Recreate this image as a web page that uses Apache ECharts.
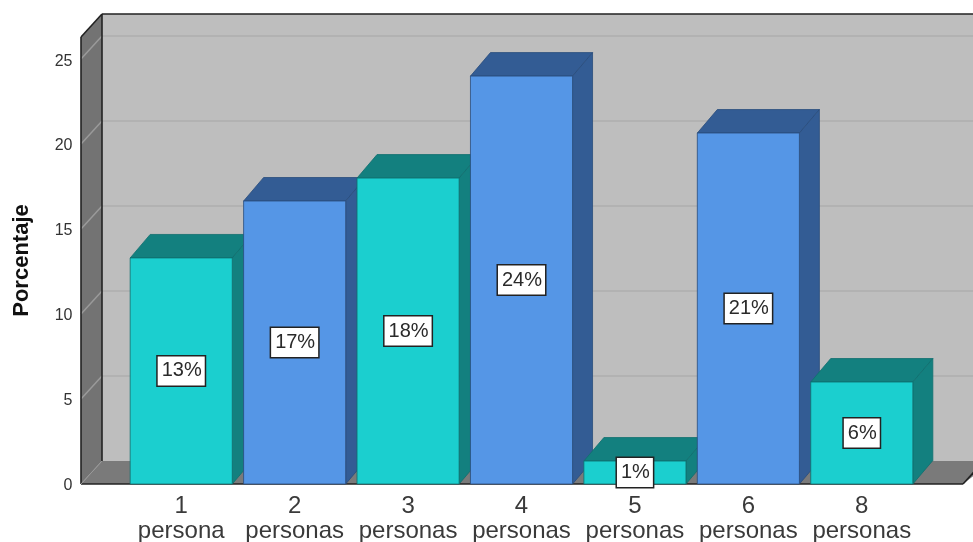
<!DOCTYPE html>
<html><head><meta charset="utf-8">
<style>html,body{margin:0;padding:0;background:#fff}#c{width:973px;height:542px}</style>
<script src="https://cdn.jsdelivr.net/npm/echarts@6/dist/echarts.min.js"></script>
</head><body><div id="c"></div>
<script>
const categories = ['1\npersona','2\npersonas','3\npersonas','4\npersonas','5\npersonas','6\npersonas','8\npersonas'];
const porcentaje = [13.3, 16.65, 18.0, 24.0, 1.35, 20.65, 6.0];
const etiquetas = ['13%','17%','18%','24%','1%','21%','6%'];
const yTicks = [0,5,10,15,20,25];
const yMax = 26.3;

const FONT = '"Liberation Sans", Arial, sans-serif';
const DX = 20, DY = 23.5, WDX = 21, WDY = 23;
const tones = [
  {front:'#1BCFCF', dark:'#13807F', edge:'#0F6E6E'},
  {front:'#5596E6', dark:'#335C94', edge:'#2A4C7C'}
];
const chart = echarts.init(document.getElementById('c'), null, {renderer:'canvas'});

function renderWalls(params, api){
  const cs = params.coordSys;
  const L = cs.x - 43.5, R = cs.x + cs.width + 44.5, B = cs.y + cs.height, T = cs.y;
  const bl = L + WDX, bb = B - WDY, bt = T - WDY, br = R + 30;
  const kids = [
    {type:'polygon', shape:{points:[[bl,bt],[br,bt],[br,bb],[bl,bb]]}, style:{fill:'#BEBEBE'}},
    {type:'polygon', shape:{points:[[L,T],[bl,bt],[bl,bb],[L,B]]}, style:{fill:'#737373'}},
    {type:'polygon', shape:{points:[[L,B],[bl,bb],[br,bb],[R,B]]}, style:{fill:'#7A7A7A'}}
  ];
  yTicks.forEach(v => {
    if (v === 0) return;
    const y = api.coord([0, v])[1];
    kids.push({type:'line', shape:{x1:bl,y1:y-WDY,x2:br,y2:y-WDY}, style:{stroke:'#AEAEAE',lineWidth:1.5}});
    kids.push({type:'line', shape:{x1:L,y1:y,x2:bl,y2:y-WDY}, style:{stroke:'#9A9A9A',lineWidth:1.5}});
  });
  const ln = '#222222';
  [[L,T,bl,bt],[bl,bt,br,bt],[bl,bt,bl,bb],[L,T,L,B],[L,B,R,B],[R,B,R+WDX,bb]].forEach(p => {
    kids.push({type:'line', shape:{x1:p[0],y1:p[1],x2:p[2],y2:p[3]}, style:{stroke:ln,lineWidth:1.6}});
  });
  kids.push({type:'line', shape:{x1:L,y1:B,x2:bl,y2:bb}, style:{stroke:'#999999',lineWidth:1}});
  return {type:'group', children:kids};
}

function renderBar(params, api){
  const i = api.value(0), v = api.value(1);
  const c = api.coord([i, v]), z = api.coord([i, 0]);
  const w = api.size([1, 0])[0] * 0.9;
  const x1 = c[0] - w/2, x2 = c[0] + w/2, t = c[1], b = z[1];
  const tone = tones[i % 2];
  return {type:'group', children:[
    {type:'polygon', shape:{points:[[x1,t],[x2,t],[x2+DX,t-DY],[x1+DX,t-DY]]}, style:{fill:tone.dark, stroke:tone.edge, lineWidth:0.8}},
    {type:'polygon', shape:{points:[[x2,t],[x2+DX,t-DY],[x2+DX,b-DY],[x2,b]]}, style:{fill:tone.dark, stroke:tone.edge, lineWidth:0.8}},
    {type:'rect', shape:{x:x1,y:t,width:w,height:b-t}, style:{fill:tone.front, stroke:tone.edge, lineWidth:0.8}}
  ]};
}

function renderLabel(params, api){
  const i = api.value(0), v = api.value(1);
  const c = api.coord([i, v/2]);
  return {type:'text', style:{x:c[0], y:c[1], text:etiquetas[i], align:'center', verticalAlign:'middle',
    font:'20px '+FONT, fill:'#2A2A2A', backgroundColor:'#FFFFFF', borderColor:'#222222', borderWidth:1.5, padding:[5,3,4,4]}};
}

const barData = porcentaje.map((v,i)=>[i,v]);
chart.setOption({
  animation:false,
  backgroundColor:'#fff',
  grid:{left:124.5, width:794, top:37, height:447, containLabel:false, outerBoundsMode:'none'},
  xAxis:{type:'category', data:categories, axisLine:{show:false}, axisTick:{show:false}, splitLine:{show:false},
    axisLabel:{interval:0, margin:10, fontFamily:FONT, fontSize:24, color:'#3A3A3A', lineHeight:25}},
  yAxis:{type:'value', min:0, max:yMax, interval:5, name:'Porcentaje', nameLocation:'middle', nameGap:92,
    nameTextStyle:{fontFamily:FONT, fontWeight:'bold', fontSize:22, color:'#111111'},
    axisLine:{show:false}, axisTick:{show:false}, splitLine:{show:false},
    axisLabel:{margin:52, showMaxLabel:false, fontFamily:FONT, fontSize:16, color:'#333333', verticalAlign:'top', lineHeight:4}},
  series:[
    {type:'custom', renderItem:renderWalls, data:[[0,0]], silent:true, z:1, clip:false},
    {type:'custom', renderItem:renderBar, data:barData, encode:{x:0,y:1}, silent:true, z:2, clip:false},
    {type:'custom', renderItem:renderLabel, data:barData, encode:{x:0,y:1}, silent:true, z:3, clip:false}
  ]
});
</script></body></html>
